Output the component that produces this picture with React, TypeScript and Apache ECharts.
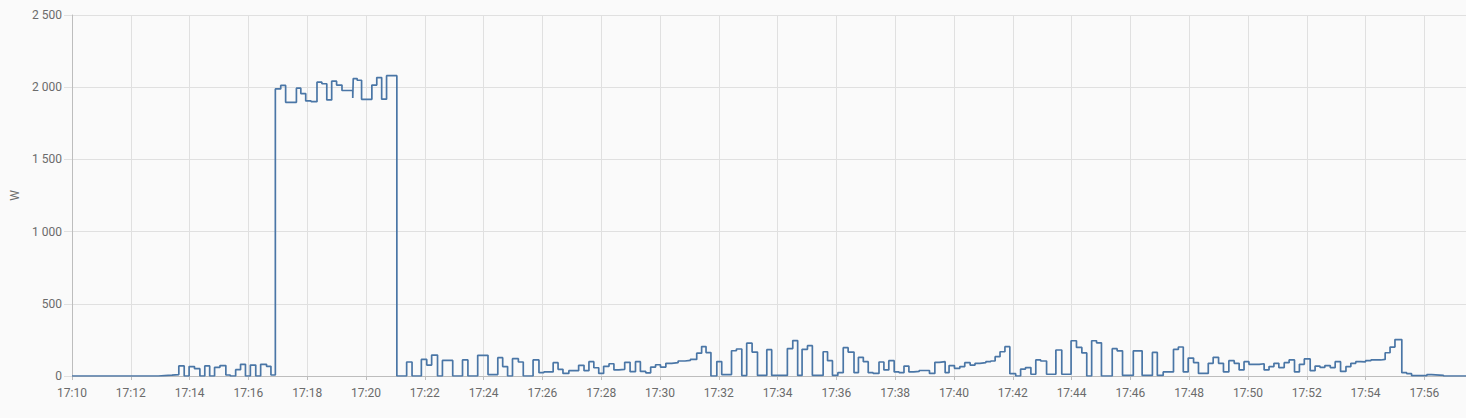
import React, { useEffect, useRef } from "react";
import * as echarts from "echarts";

// Start of the time window: 17:10:00. Offsets are seconds after it.
const startHour = 17;
const startMinute = 10;
const endOffsetSec = 2845;

const offsetsSec = [
  0, 176, 189, 204, 218, 229, 239, 250, 261, 271,
  281, 291, 302, 314, 323, 334, 344, 354, 364, 375,
  385, 397, 406, 415, 426, 436, 458, 467, 477, 488,
  500, 510, 520, 530, 540, 551, 573, 574, 582, 591,
  612, 622, 632, 642, 663, 683, 694, 713, 724, 734,
  746, 756, 777, 797, 808, 828, 849, 869, 879, 889,
  899, 911, 921, 941, 953, 963, 982, 992, 1002, 1014,
  1034, 1045, 1055, 1065, 1075, 1085, 1096, 1106, 1116, 1128,
  1139, 1150, 1160, 1171, 1181, 1191, 1201, 1212, 1224, 1237,
  1251, 1262, 1275, 1285, 1294, 1304, 1316, 1326, 1346, 1356,
  1367, 1377, 1388, 1399, 1418, 1428, 1460, 1471, 1481, 1490,
  1501, 1511, 1533, 1542, 1552, 1563, 1574, 1584, 1596, 1605,
  1615, 1625, 1635, 1647, 1657, 1667, 1678, 1688, 1698, 1708,
  1718, 1729, 1750, 1761, 1770, 1782, 1790, 1801, 1812, 1822,
  1833, 1843, 1853, 1865, 1875, 1884, 1894, 1904, 1914, 1926,
  1936, 1946, 1957, 1967, 1977, 1989, 2008, 2020, 2039, 2050,
  2061, 2071, 2081, 2091, 2101, 2123, 2133, 2144, 2166, 2184,
  2205, 2215, 2227, 2248, 2258, 2268, 2278, 2289, 2299, 2319,
  2329, 2340, 2350, 2361, 2372, 2382, 2392, 2402, 2423, 2433,
  2443, 2453, 2463, 2474, 2484, 2495, 2505, 2515, 2527, 2537,
  2547, 2557, 2568, 2578, 2589, 2600, 2610, 2620, 2630, 2640,
  2651, 2671, 2680, 2690, 2700, 2714, 2724, 2734, 2765, 2775,
  2799, 2845,
];

const watts = [
  0, 3, 6, 10, 70, 0, 65, 51, 0, 70,
  0, 60, 72, 7, 0, 44, 81, 0, 76, 0,
  81, 67, 7, 1988, 2012, 1895, 1993, 1956, 1905, 1900,
  2035, 2024, 1912, 2042, 2015, 1977, 1925, 2060, 2048, 1916,
  2015, 2067, 1917, 2080, 0, 97, 0, 115, 76, 145,
  0, 108, 0, 111, 0, 143, 10, 127, 65, 0,
  120, 97, 0, 111, 23, 28, 92, 46, 18, 37,
  74, 37, 99, 57, 18, 67, 85, 42, 46, 95,
  30, 99, 32, 22, 62, 78, 62, 88, 92, 104,
  108, 115, 158, 204, 162, 0, 100, 10, 175, 187,
  3, 227, 166, 4, 182, 4, 190, 245, 4, 185,
  210, 4, 168, 106, 4, 23, 196, 166, 23, 129,
  99, 23, 18, 97, 42, 106, 28, 23, 69, 28,
  32, 38, 18, 95, 99, 23, 72, 53, 65, 92,
  76, 88, 92, 99, 104, 134, 168, 203, 16, 0,
  48, 58, 12, 111, 104, 12, 180, 12, 244, 198,
  160, 0, 244, 230, 0, 189, 174, 4, 174, 4,
  163, 4, 28, 184, 201, 28, 124, 93, 18, 88,
  129, 88, 28, 106, 88, 42, 99, 81, 85, 42,
  65, 88, 58, 92, 111, 28, 81, 118, 37, 69,
  60, 72, 58, 99, 32, 65, 88, 99, 98, 106,
  111, 115, 161, 200, 252, 23, 16, 2, 9, 5,
  0, 0,
];

const yTicks = [0, 500, 1000, 1500, 2000, 2500];
const yUnit = "W";

function fmtTime(sec: number): string {
  const total = startHour * 60 + startMinute + Math.floor(sec / 60);
  const h = Math.floor(total / 60) % 24;
  const m = total % 60;
  return `${String(h).padStart(2, "0")}:${String(m).padStart(2, "0")}`;
}

function fmtWatts(v: number): string {
  if (v >= 1000) {
    return `${Math.floor(v / 1000)} ${String(v % 1000).padStart(3, "0")}`;
  }
  return String(v);
}

export default function App() {
  const ref = useRef<HTMLDivElement>(null);

  useEffect(() => {
    if (!ref.current) return;
    const chart = echarts.init(ref.current, undefined, { renderer: "svg" });
    const data = offsetsSec.map((t, i) => [t, watts[i]]);
    const gridColor = "#e0e0e0";
    const axisColor = "#bdbdbd";
    const textColor = "#6b6b6b";
    chart.setOption({
      animation: false,
      backgroundColor: "#fafafa",
      textStyle: { fontFamily: "Roboto, sans-serif" },
      grid: { left: 72, right: 0, top: 15, bottom: 42, containLabel: false },
      xAxis: {
        type: "value",
        min: 0,
        max: endOffsetSec,
        interval: 120,
        axisLine: { show: true, lineStyle: { color: axisColor, width: 1 } },
        axisTick: { show: true, length: 4, lineStyle: { color: axisColor } },
        splitLine: { show: true, lineStyle: { color: gridColor, width: 1 } },
        axisLabel: {
          color: textColor,
          fontSize: 12,
          margin: 11,
          showMaxLabel: false,
          formatter: (v: number) => fmtTime(v),
        },
      },
      yAxis: {
        type: "value",
        min: yTicks[0],
        max: yTicks[yTicks.length - 1],
        interval: 500,
        name: yUnit,
        nameLocation: "middle",
        nameGap: 50,
        nameRotate: 90,
        nameTextStyle: { color: textColor, fontSize: 12 },
        axisLine: { show: true, lineStyle: { color: axisColor, width: 1 } },
        axisTick: { show: true, length: 8, lineStyle: { color: gridColor } },
        splitLine: { show: true, lineStyle: { color: gridColor, width: 1 } },
        axisLabel: {
          color: textColor,
          fontSize: 12,
          margin: 10,
          formatter: (v: number) => fmtWatts(v),
        },
      },
      series: [
        {
          type: "line",
          step: "end",
          showSymbol: false,
          data,
          lineStyle: { color: "#4a76a6", width: 1.7 },
          itemStyle: { color: "#4a76a6" },
        },
      ],
    });
    return () => chart.dispose();
  }, []);

  return (
    <div
      ref={ref}
      style={{
        position: "absolute",
        left: 0,
        top: 0,
        width: 1466,
        height: 418,
        background: "#fafafa",
      }}
    />
  );
}
